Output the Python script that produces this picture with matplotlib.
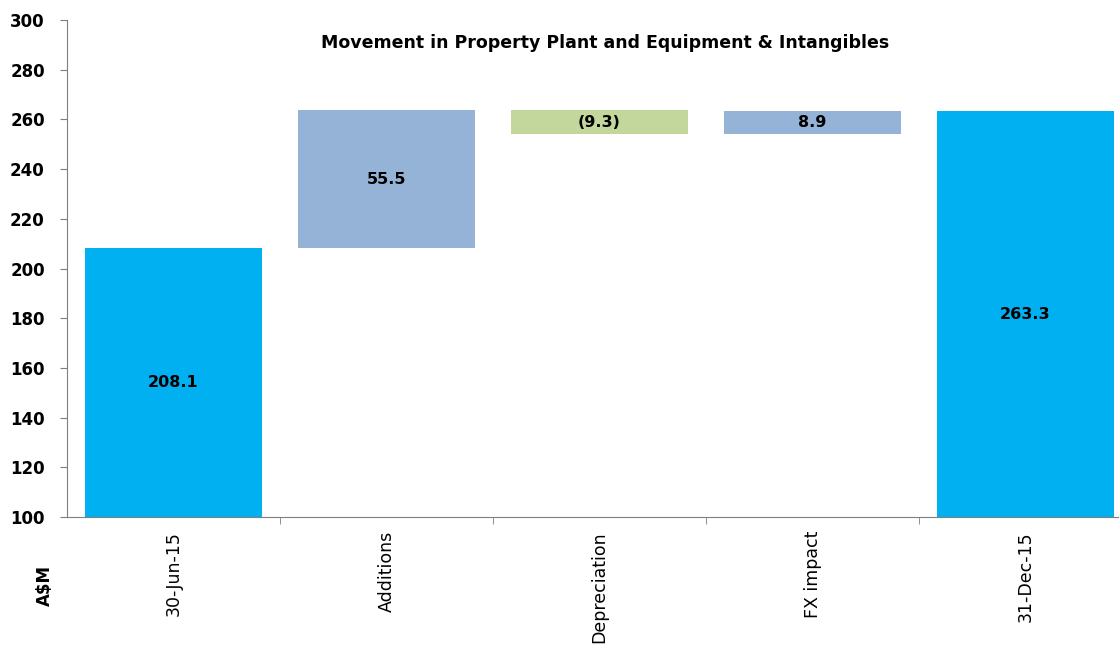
import numpy as np
import matplotlib
matplotlib.use("Agg")
import matplotlib.pyplot as plt

# Daten
kategorien = ["30-Jun-15", "Additions", "Depreciation", "FX impact", "31-Dec-15"]
werte = [208.1, 55.5, -9.3, 8.9, 263.3]
ist_summe = [True, False, False, False, True]
beschriftung = ["208.1", "55.5", "(9.3)", "8.9", "263.3"]

farben = ["#00B0F0", "#95B3D7", "#C3D69B", "#95B3D7", "#00B0F0"]
y_min = 100

plt.rcParams["font.family"] = "DejaVu Sans"

fig = plt.figure(figsize=(11.19, 6.5), dpi=100)
ax = fig.add_axes([67 / 1119, 133 / 650, (1132 - 67) / 1119, (517 - 20) / 650])

# Waterfall: Boden und Höhe berechnen
boeden = []
hoehen = []
stand = 0.0
for w, summe in zip(werte, ist_summe):
    if summe:
        boeden.append(y_min)
        hoehen.append(w - y_min)
        stand = w
    else:
        if w >= 0:
            boeden.append(stand)
        else:
            boeden.append(stand + w)
        hoehen.append(abs(w))
        stand = stand + w

x = np.arange(len(kategorien))
ax.bar(x, hoehen, bottom=boeden, width=0.83, color=farben, edgecolor="none", zorder=2)

for xi, b, h, txt in zip(x, boeden, hoehen, beschriftung):
    ax.text(xi, b + h / 2, txt, ha="center", va="center", fontsize=11.5,
            fontweight="bold", color="black", zorder=3)

ax.set_xlim(-0.5, len(kategorien) - 0.5)
ax.set_ylim(100, 300)
ax.set_yticks(np.arange(100, 301, 20))
ax.set_xticks(x)
ax.set_xticklabels(kategorien, rotation=90, fontsize=12.5)
ax.set_xticks(np.arange(0.5, len(kategorien) - 1, 1), minor=True)
ax.tick_params(axis="x", which="major", length=0, pad=10)
ax.tick_params(axis="x", which="minor", length=5, color="#7f7f7f", direction="out")
ax.tick_params(axis="y", length=5, color="#7f7f7f", labelsize=12, pad=11)
for lbl in ax.get_yticklabels():
    lbl.set_fontweight("bold")

for s in ["top", "right"]:
    ax.spines[s].set_visible(False)
ax.spines["left"].set_color("#7f7f7f")
ax.spines["bottom"].set_color("#7f7f7f")

fig.text(605 / 1119, 1 - 43 / 650, "Movement in Property Plant and Equipment & Intangibles",
         ha="center", va="center", fontsize=12.5, fontweight="bold")

fig.text(45 / 1119, 1 - 585 / 650, "A\\$M", rotation=90, ha="center", va="center",
         fontsize=12, fontweight="bold")

fig.savefig("out.png", dpi=100)
